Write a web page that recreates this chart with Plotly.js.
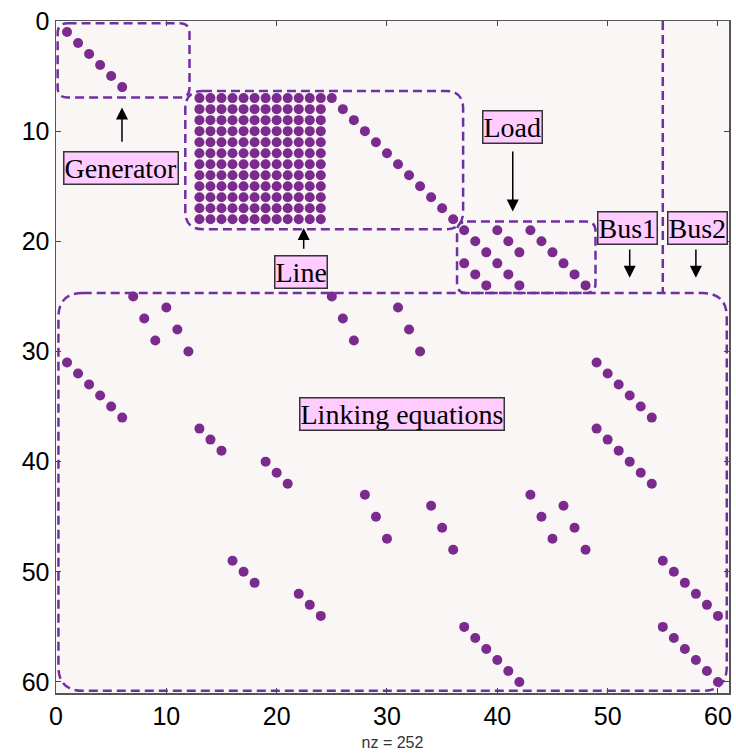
<!DOCTYPE html>
<html>
<head>
<meta charset="utf-8">
<script src="https://cdn.plot.ly/plotly-3.0.1.min.js"></script>
<style>
  html, body { margin: 0; padding: 0; background: #ffffff; }
  #chart { width: 736px; height: 755px; }
</style>
</head>
<body>
<div id="chart"></div>
<script>
// ---- Sparsity pattern (row, column) ----
// Generator block: diagonal
const genRows = [1, 2, 3, 4, 5, 6];
const genCols = [1, 2, 3, 4, 5, 6];

// Line block: dense square (every row x every column is non-zero)
const lineBlockRows = [7, 8, 9, 10, 11, 12, 13, 14, 15, 16, 17, 18];
const lineBlockCols = [13, 14, 15, 16, 17, 18, 19, 20, 21, 22, 23, 24];

// Line block: diagonal to the right of the dense square
const lineDiagRows = [7, 8, 9, 10, 11, 12, 13, 14, 15, 16, 17, 18];
const lineDiagCols = [25, 26, 27, 28, 29, 30, 31, 32, 33, 34, 35, 36];

// Load block
const loadRows = [19, 19, 19, 20, 20, 20, 21, 21, 21, 22, 22, 22, 23, 23, 23, 24, 24, 24];
const loadCols = [37, 40, 43, 38, 41, 44, 39, 42, 45, 37, 40, 46, 38, 41, 47, 39, 42, 48];

// Linking equations
const linkRows = [
  25, 27, 29,
  26, 28, 30,
  25, 27, 29,
  26, 28, 30,
  31, 32, 33, 34, 35, 36,
  37, 38, 39,
  40, 41, 42,
  43, 45, 47,
  44, 46, 48,
  43, 45, 47,
  44, 46, 48,
  31, 32, 33, 34, 35, 36,
  37, 38, 39, 40, 41, 42,
  49, 50, 51,
  52, 53, 54,
  49, 50, 51, 52, 53, 54,
  55, 56, 57, 58, 59, 60,
  55, 56, 57, 58, 59, 60
];
const linkCols = [
  7, 8, 9,
  10, 11, 12,
  25, 26, 27,
  31, 32, 33,
  1, 2, 3, 4, 5, 6,
  13, 14, 15,
  19, 20, 21,
  28, 29, 30,
  34, 35, 36,
  43, 44, 45,
  46, 47, 48,
  49, 50, 51, 52, 53, 54,
  49, 50, 51, 52, 53, 54,
  16, 17, 18,
  22, 23, 24,
  55, 56, 57, 58, 59, 60,
  55, 56, 57, 58, 59, 60,
  37, 38, 39, 40, 41, 42
];

// Axis ticks
const tickVals = [0, 10, 20, 30, 40, 50, 60];
const tickText = ['0', '10', '20', '30', '40', '50', '60'];

// Block labels
const labelText = ['Generator', 'Line', 'Load', 'Bus1', 'Bus2', 'Linking equations'];

// ---- Build point lists ----
const xs = [], ys = [];
function addPairs(rows, cols) {
  for (let i = 0; i < rows.length; i++) { ys.push(rows[i]); xs.push(cols[i]); }
}
addPairs(genRows, genCols);
lineBlockRows.forEach(r => lineBlockCols.forEach(c => { ys.push(r); xs.push(c); }));
addPairs(lineDiagRows, lineDiagCols);
addPairs(loadRows, loadCols);
addPairs(linkRows, linkCols);

const nz = xs.length;

const dotColor = '#7b2a8d';
const boxColor = '#7030a0';

const trace = {
  type: 'scatter',
  mode: 'markers',
  x: xs,
  y: ys,
  marker: { color: dotColor, size: 10, symbol: 'circle', line: { width: 0 } },
  hoverinfo: 'x+y',
  showlegend: false
};

function roundRect(x0, y0, x1, y1, rx, ry) {
  return 'M' + (x0 + rx) + ',' + y0 +
    ' L' + (x1 - rx) + ',' + y0 +
    ' Q' + x1 + ',' + y0 + ' ' + x1 + ',' + (y0 + ry) +
    ' L' + x1 + ',' + (y1 - ry) +
    ' Q' + x1 + ',' + y1 + ' ' + (x1 - rx) + ',' + y1 +
    ' L' + (x0 + rx) + ',' + y1 +
    ' Q' + x0 + ',' + y1 + ' ' + x0 + ',' + (y1 - ry) +
    ' L' + x0 + ',' + (y0 + ry) +
    ' Q' + x0 + ',' + y0 + ' ' + (x0 + rx) + ',' + y0 + ' Z';
}

const dashLine = { color: boxColor, width: 2.5, dash: '9px,5px' };

const shapes = [
  { type: 'path', xref: 'x', yref: 'y', path: roundRect(0.15, 0.2, 12.1, 6.95, 0.9, 0.9), line: dashLine },
  { type: 'path', xref: 'x', yref: 'y', path: roundRect(11.72, 6.35, 36.9, 18.9, 1.6, 1.6), line: dashLine },
  { type: 'path', xref: 'x', yref: 'y', path: roundRect(36.35, 18.2, 48.9, 24.7, 0.9, 0.9), line: dashLine },
  { type: 'path', xref: 'x', yref: 'y', path: roundRect(0.22, 24.7, 60.8, 60.8, 2.2, 2.2), line: dashLine },
  { type: 'line', xref: 'x', yref: 'y', x0: 55.0, x1: 55.0, y0: 0, y1: 24.7, line: dashLine }
];

const labelFont = { family: 'Liberation Serif, "Times New Roman", serif', size: 28, color: '#000000' };
function label(text, x, y) {
  return {
    xref: 'x', yref: 'y', x: x, y: y, text: text, showarrow: false,
    font: labelFont, bgcolor: '#ffccff', bordercolor: '#333333', borderwidth: 1.5, borderpad: 0,
    xanchor: 'center', yanchor: 'middle'
  };
}
function arrow(x, yTip, yTail) {
  return {
    xref: 'x', yref: 'y', axref: 'x', ayref: 'y',
    x: x, y: yTip, ax: x, ay: yTail, text: '', showarrow: true,
    arrowhead: 2, arrowsize: 1.6, arrowwidth: 1.5, arrowcolor: '#000000', standoff: 0, startstandoff: 0
  };
}

const annotations = [
  label(labelText[0], 5.9, 13.35),
  label(labelText[1], 22.2, 22.75),
  label(labelText[2], 41.4, 9.6),
  label(labelText[3], 51.8, 18.75),
  label(labelText[4], 58.1, 18.75),
  label(labelText[5], 31.35, 35.7),
  arrow(5.98, 7.85, 11.1),
  arrow(22.45, 18.8, 20.8),
  arrow(41.4, 17.3, 11.7),
  arrow(52.0, 23.3, 20.6),
  arrow(58.0, 23.3, 20.6)
];

const tickFont = { family: 'Liberation Sans, Arial, sans-serif', size: 25, color: '#000000' };

const layout = {
  width: 736,
  height: 755,
  margin: { l: 56, r: 7, t: 21, b: 62, pad: 0 },
  paper_bgcolor: '#ffffff',
  plot_bgcolor: '#faf6f6',
  showlegend: false,
  xaxis: {
    range: [0, 61],
    tickmode: 'array', tickvals: tickVals, ticktext: tickText,
    ticks: 'inside', ticklen: 5, tickwidth: 1, tickcolor: '#444444',
    showline: true, linecolor: '#555555', linewidth: 1.5, mirror: 'ticks',
    showgrid: false, zeroline: false,
    tickfont: tickFont,
    title: { text: 'nz = ' + nz, font: { family: 'Liberation Sans Narrow, Arial Narrow, Liberation Sans, sans-serif', size: 16, color: '#333333' }, standoff: 8 }
  },
  yaxis: {
    range: [61, 0],
    tickmode: 'array', tickvals: tickVals, ticktext: tickText,
    ticks: 'inside', ticklen: 5, tickwidth: 1, tickcolor: '#444444',
    showline: true, linecolor: '#555555', linewidth: 1.5, mirror: 'ticks',
    showgrid: false, zeroline: false,
    tickfont: tickFont
  },
  shapes: shapes,
  annotations: annotations
};

Plotly.newPlot('chart', [trace], layout, { displayModeBar: false, staticPlot: true });
</script>
</body>
</html>
